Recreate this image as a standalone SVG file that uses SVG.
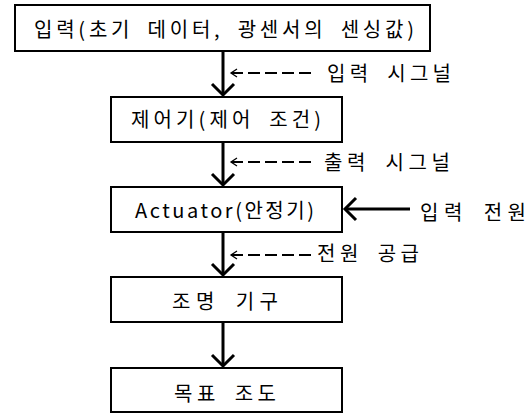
<svg xmlns="http://www.w3.org/2000/svg" width="528" height="414" viewBox="0 0 528 414">
<style>
.box{fill:#fff;stroke:#000;stroke-width:2}
.t{font-family:"Noto Sans CJK KR","Noto Sans",sans-serif;font-size:20px;word-spacing:6px;fill:#000}
.main{stroke:#000;stroke-width:3;fill:none}
.dash{stroke:#000;stroke-width:2;fill:none;stroke-dasharray:12 5}
</style>
<defs>
<marker id="bigHead" markerUnits="userSpaceOnUse" markerWidth="30" markerHeight="30" refX="12" refY="12" orient="auto" overflow="visible">
<path d="M1,1 L12,12 L1,23" stroke="#000" stroke-width="3" fill="none"/>
</marker>
<marker id="smallHead" markerUnits="userSpaceOnUse" markerWidth="12" markerHeight="12" refX="6" refY="5" orient="auto" overflow="visible">
<path d="M0,1 L6,5 L0,9" stroke="#000" stroke-width="1.3" fill="none"/>
</marker>
</defs>
<g id="connectors">
<line class="main" x1="223" y1="51" x2="223" y2="95" marker-end="url(#bigHead)"/>
<line class="main" x1="223" y1="142" x2="223" y2="185" marker-end="url(#bigHead)"/>
<line class="main" x1="223" y1="232" x2="223" y2="275" marker-end="url(#bigHead)"/>
<line class="main" x1="223" y1="322" x2="223" y2="366" marker-end="url(#bigHead)"/>
<line class="main" x1="410" y1="209" x2="345" y2="209" marker-end="url(#bigHead)"/>
<path class="dash" d="M311,73 H231" marker-end="url(#smallHead)"/>
<path class="dash" d="M311,162 H231" marker-end="url(#smallHead)"/>
<path class="dash" d="M311,255 H231" marker-end="url(#smallHead)"/>
<text class="t" x="327" y="81" textLength="124" lengthAdjust="spacing">입력 시그널</text>
<text class="t" x="324" y="170" textLength="126" lengthAdjust="spacing">출력 시그널</text>
<text class="t" x="420" y="220" textLength="106" lengthAdjust="spacing">입력 전원</text>
<text class="t" x="317" y="261" textLength="102" lengthAdjust="spacing">전원 공급</text>
</g>
<g id="input">
<rect class="box" x="15" y="5" width="415" height="46"/>
<text class="t" x="34" y="37" textLength="380" lengthAdjust="spacing">입력(초기 데이터, 광센서의 센싱값)</text>
</g>
<g id="controller">
<rect class="box" x="111" y="97" width="231" height="45"/>
<text class="t" x="131" y="127" textLength="190" lengthAdjust="spacing">제어기(제어 조건)</text>
</g>
<g id="actuator">
<rect class="box" x="111" y="187" width="231" height="45"/>
<text class="t" x="135" y="218" textLength="179" lengthAdjust="spacing">Actuator(안정기)</text>
</g>
<g id="lighting">
<rect class="box" x="111" y="277" width="231" height="45"/>
<text class="t" x="172" y="309" textLength="106" lengthAdjust="spacing">조명 기구</text>
</g>
<g id="target">
<rect class="box" x="111" y="368" width="231" height="44"/>
<text class="t" x="174" y="401" textLength="102" lengthAdjust="spacing">목표 조도</text>
</g>
</svg>
